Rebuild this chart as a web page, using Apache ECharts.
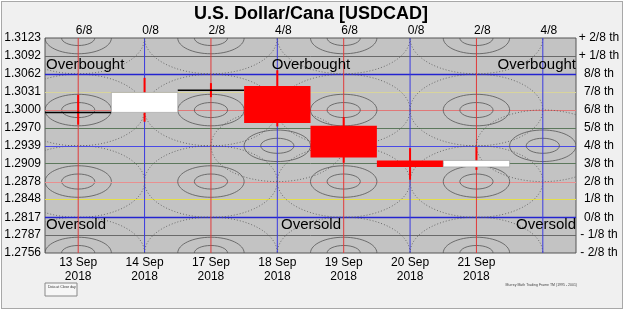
<!DOCTYPE html>
<html>
<head>
<meta charset="utf-8">
<script src="https://cdn.jsdelivr.net/npm/echarts@6/dist/echarts.min.js"></script>
<style>
html,body{margin:0;padding:0;background:#fff;}
#wrap{position:relative;width:625px;height:318px;}
#panel{position:absolute;left:1px;top:1px;width:620px;height:306px;background:#f0f0f0;border:1px solid #a8a8a8;}
#chart{position:absolute;left:0;top:0;width:625px;height:318px;}
</style>
</head>
<body>
<div id="wrap"><div id="panel"></div><div id="chart"></div></div>
<script>
// daily candles
const dates = ['13 Sep 2018', '14 Sep 2018', '17 Sep 2018', '18 Sep 2018', '19 Sep 2018', '20 Sep 2018', '21 Sep 2018'];
const opens = [1.2996, 1.2996, 1.3034, 1.3041, 1.2973, 1.2914, 1.2903];
const closes = [1.2996, 1.3030, 1.3034, 1.2978, 1.2919, 1.2903, 1.2914];
const highs = [1.3026, 1.3055, 1.3046, 1.3068, 1.2988, 1.2935, 1.2937];
const lows = [1.2975, 1.2980, 1.3022, 1.2972, 1.2910, 1.2881, 1.2898];

// murrey math frame
const levels = [1.2756, 1.2787, 1.2817, 1.2848, 1.2878, 1.2909, 1.2939, 1.2970, 1.3000, 1.3031, 1.3062, 1.3092, 1.3123];
const levelNames = ['- 2/8 th', '- 1/8 th', '0/8 th', '1/8 th', '2/8 th', '3/8 th', '4/8 th', '5/8 th', '6/8 th', '7/8 th', '8/8 th', '+ 1/8 th', '+ 2/8 th'];
const timeMarks = ['6/8', '0/8', '2/8', '4/8', '6/8', '0/8', '2/8', '4/8'];

const lineColors = ['#555', '#6a6a6a', '#2424d0', '#e4de4a', '#e89090', '#5c785c', '#4a4ae6', '#5c785c', '#e07878', '#d8d49c', '#2424d0', '#6a6a6a', '#555'];
const font = '"Liberation Sans", Arial, sans-serif';

const categories = dates.concat(['']);
const chart = echarts.init(document.getElementById('chart'));

function renderFrame(params, api) {
    let i = api.value(0);
    let top = api.coord([i, levels[12]]);
    let bot = api.coord([i, levels[0]]);
    let x = top[0];
    let colW = api.size([1, 0])[0];
    let lvlH = (bot[1] - top[1]) / 12;
    let isRed = timeMarks[i] === '6/8' || timeMarks[i] === '2/8';
    let kids = [];
    let centers = isRed ? [12, 8, 4, 0] : (timeMarks[i] === '4/8' ? [6] : []);
    for (let k of centers) {
        let cy = api.coord([i, levels[k]])[1];
        kids.push({type: 'ellipse', shape: {cx: x, cy: cy, rx: colW, ry: 2 * lvlH},
            style: {fill: null, stroke: '#555', lineWidth: 0.8, lineDash: [1, 2]}});
        kids.push({type: 'ellipse', shape: {cx: x, cy: cy, rx: colW / 2, ry: 0.88 * lvlH},
            style: {fill: null, stroke: '#555', lineWidth: 0.8}});
        kids.push({type: 'ellipse', shape: {cx: x, cy: cy, rx: colW / 4, ry: 0.42 * lvlH},
            style: {fill: null, stroke: '#555', lineWidth: 0.8}});
    }
    // horizontal octave lines, drawn once across the grid
    if (i === 0) {
        let cs = params.coordSys;
        for (let k = 1; k < 12; k++) {
            let y = Math.round(api.coord([i, levels[k]])[1]) + 0.5;
            kids.push({type: 'line', shape: {x1: cs.x, y1: y, x2: cs.x + cs.width, y2: y},
                style: {stroke: lineColors[k], lineWidth: (k === 2 || k === 10) ? 1.4 : 1}});
        }
    }
    kids.push({type: 'line', shape: {x1: x, y1: top[1], x2: x, y2: bot[1]},
        style: {stroke: isRed ? '#e03a3a' : '#3a3ae0', lineWidth: 1}});
    return {type: 'group', children: kids};
}

function renderCandle(params, api) {
    let i = api.value(0), o = api.value(1), c = api.value(2), h = api.value(3), l = api.value(4);
    let w = api.size([1, 0])[0];
    let pO = api.coord([i, o]), pC = api.coord([i, c]), pH = api.coord([i, h]), pL = api.coord([i, l]);
    let x0 = pO[0] - w / 2;
    let kids = [{type: 'line', shape: {x1: pH[0], y1: pH[1], x2: pL[0], y2: pL[1]},
        style: {stroke: '#ff0000', lineWidth: 2}}];
    if (o === c) {
        kids.push({type: 'line', shape: {x1: x0, y1: pO[1], x2: x0 + w, y2: pO[1]},
            style: {stroke: '#000', lineWidth: 1.5}});
    } else {
        let up = c > o;
        kids.push({type: 'rect', shape: {x: x0, y: Math.min(pO[1], pC[1]), width: w, height: Math.abs(pO[1] - pC[1])},
            style: {fill: up ? '#fff' : '#ff0000', stroke: up ? '#999' : '#ff0000', lineWidth: up ? 0.6 : 0}});
    }
    return {type: 'group', children: kids};
}

const option = {
    animation: false,
    textStyle: {fontFamily: font},
    grid: {
        left: 45, right: 49, top: 38, bottom: 65,
        show: true, backgroundColor: '#c3c3c3', borderColor: '#555', borderWidth: 1
    },
    xAxis: [{
        type: 'category',
        data: categories,
        position: 'bottom',
        axisLine: {show: false},
        axisTick: {show: false},
        axisLabel: {
            interval: 0, margin: 3, fontSize: 12, color: '#000', lineHeight: 14, fontFamily: font,
            formatter: v => v.replace(/ (\d{4})$/, '\n$1')
        }
    }, {
        type: 'category',
        data: categories,
        position: 'top',
        axisLine: {show: false},
        axisTick: {show: false},
        axisLabel: {
            interval: 0, margin: 1, fontSize: 12, color: '#000', fontFamily: font,
            padding: [0, 0, 0, 12],
            formatter: (v, i) => timeMarks[i]
        }
    }],
    yAxis: [{
        type: 'value',
        min: levels[0], max: levels[12],
        axisLine: {show: false}, axisTick: {show: false}, splitLine: {show: false},
        axisLabel: {
            customValues: levels, margin: 4, fontSize: 12, color: '#000', fontFamily: font,
            padding: [3, 0, 0, 0],
            formatter: v => v.toFixed(4)
        }
    }, {
        type: 'value',
        position: 'right',
        min: levels[0], max: levels[12],
        axisLine: {show: false}, axisTick: {show: false}, splitLine: {show: false},
        axisLabel: {
            customValues: levels, margin: 23, align: 'center', fontSize: 12, color: '#000', fontFamily: font,
            padding: [3, 0, 0, 0],
            formatter: v => {
                let best = 0;
                levels.forEach((lv, k) => { if (Math.abs(lv - v) < Math.abs(levels[best] - v)) best = k; });
                return levelNames[best];
            }
        }
    }],
    series: [{
        type: 'custom',
        name: 'frame',
        z: 1,
        clip: true,
        silent: true,
        renderItem: renderFrame,
        encode: {x: 0, y: 1},
        data: timeMarks.map((m, i) => [i, levels[6]])
    }, {
        type: 'custom',
        name: 'USDCAD',
        z: 5,
        renderItem: renderCandle,
        encode: {x: 0, y: [1, 2, 3, 4]},
        data: dates.map((d, i) => [i, opens[i], closes[i], highs[i], lows[i]])
    }],
    graphic: [
        {type: 'text', x: 311, y: 14, style: {text: 'U.S. Dollar/Cana [USDCAD]', font: 'bold 18px ' + font, fill: '#000', align: 'center', verticalAlign: 'middle'}},
        {type: 'text', x: 46, y: 65, style: {text: 'Overbought', font: '15px ' + font, fill: '#000', align: 'left', verticalAlign: 'middle'}, z: 10},
        {type: 'text', x: 311, y: 65, style: {text: 'Overbought', font: '15px ' + font, fill: '#000', align: 'center', verticalAlign: 'middle'}, z: 10},
        {type: 'text', x: 576, y: 65, style: {text: 'Overbought', font: '15px ' + font, fill: '#000', align: 'right', verticalAlign: 'middle'}, z: 10},
        {type: 'text', x: 46, y: 225, style: {text: 'Oversold', font: '15px ' + font, fill: '#000', align: 'left', verticalAlign: 'middle'}, z: 10},
        {type: 'text', x: 311, y: 225, style: {text: 'Oversold', font: '15px ' + font, fill: '#000', align: 'center', verticalAlign: 'middle'}, z: 10},
        {type: 'text', x: 576, y: 225, style: {text: 'Oversold', font: '15px ' + font, fill: '#000', align: 'right', verticalAlign: 'middle'}, z: 10},
        {type: 'rect', shape: {x: 45, y: 283, width: 32, height: 13}, style: {fill: '#f6f6f6', stroke: '#888', lineWidth: 1}},
        {type: 'text', x: 48, y: 285, style: {text: 'Data at Close day', font: '3.5px ' + font, fill: '#333'}},
        {type: 'text', x: 577, y: 283, style: {text: 'Murrey Math Trading Frame TM (1995 - 2001)', font: '3.5px ' + font, fill: '#444', align: 'right'}}
    ]
};
chart.setOption(option);
</script>
</body>
</html>
